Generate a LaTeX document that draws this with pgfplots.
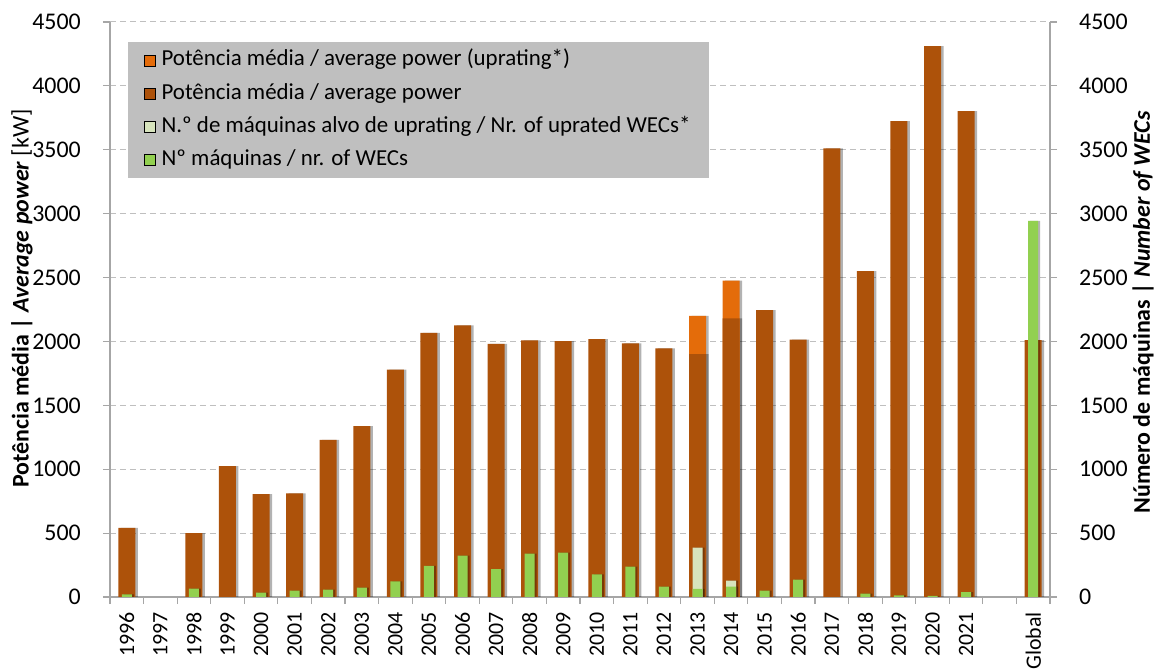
\documentclass[border=0pt]{standalone}
\usepackage{pgfplots}
\pgfplotsset{compat=1.18}
\usepackage{pgfplotstable}
\usepackage{fontspec}
\setmainfont{Carlito}
\definecolor{cOrange}{HTML}{E46C0A}
\definecolor{cBrown}{HTML}{AD520A}
\definecolor{cLight}{HTML}{D7E4BD}
\definecolor{cGreen}{HTML}{92D050}
\definecolor{cLeg}{HTML}{BFBFBF}
\definecolor{cAxis}{HTML}{A6A6A6}
\definecolor{cGrid}{HTML}{BFBFBF}
\newcommand\fs[1]{\fontsize{#1}{#1}\selectfont}

% x: 0 = 1996 ... 25 = 2021, 27 = Global
\pgfplotstableread{
x power wecs
0 540 20
1 0 0
2 500 65
3 1025 0
4 806 35
5 810 50
6 1230 57
7 1338 73
8 1780 123
9 2068 243
10 2125 324
11 1980 219
12 2008 339
13 2003 347
14 2018 177
15 1985 237
16 1945 81
17 1900 63
18 2180 81
19 2245 50
20 2015 136
21 3510 0
22 2550 26
23 3725 13
24 4312 8
25 3803 39
27 2010 2943
}\maindata
% totals including uprating
\pgfplotstableread{
x power wecs
17 2200 386
18 2476 128
}\upratedata

\pgfplotsset{
  legsq/.style={legend image code/.code={\fill[##1] (0bp,-5.5bp) rectangle (11bp,5.5bp);}},
  barbase/.style={ybar, bar shift=0pt, draw=none, forget plot},
}

\begin{document}
\begin{tikzpicture}
\begin{axis}[
  name=main,
  width=940bp, height=575bp, scale only axis,
  xmin=-0.5, xmax=27.5, ymin=0, ymax=4500,
  axis x line*=bottom, axis y line*=left,
  axis line style={draw=cAxis, line width=1.2bp},
  ytick={0,500,...,4500},
  ymajorgrids,
  grid style={draw=cGrid, line width=1bp, dash pattern=on 6bp off 4bp},
  tick align=outside,
  major tick length=7bp,
  tick style={draw=cAxis, line width=1.2bp},
  xtick={-0.5,0.5,...,27.5},
  xticklabels={},
  extra x ticks={0,1,...,25,27},
  extra x tick labels={1996,1997,1998,1999,2000,2001,2002,2003,2004,2005,2006,2007,2008,2009,2010,2011,2012,2013,2014,2015,2016,2017,2018,2019,2020,2021,Global},
  extra x tick style={major tick length=0pt, tick style={draw=none},
     xticklabel style={rotate=90, anchor=east, inner sep=0pt, font=\fs{22}}},
  xticklabel shift=15bp,
  yticklabel style={font=\fs{24}, inner sep=0pt},
  yticklabel shift=22bp,
  /pgf/number format/assume math mode=true,
  /pgf/number format/set thousands separator={},
  every axis y label/.style={at={(axis description cs:0,0.5)}, xshift=-88bp, yshift=11bp, rotate=90, anchor=center},
  ylabel={\fs{24}\textbf{Potência média | \textit{Average power}} [kW]},
  legend style={at={(axis description cs:0.0191,0.9652)}, anchor=north west,
     fill=cLeg, draw=none, font=\fs{23}, inner xsep=16bp, inner ysep=5.5bp,
     row sep=8.3bp, nodes={inner sep=2bp, text height=16bp, text depth=5bp},
     /tikz/every odd column/.append style={column sep=4bp}},
  legend cell align=left,
]
% shadows
\addplot[barbase, bar width=17bp, bar shift=2.5bp, fill=black, fill opacity=0.3] table[x=x,y=power] {\maindata};
\addplot[barbase, bar width=17bp, bar shift=2.5bp, fill=black, fill opacity=0.3] table[x=x,y=power] {\upratedata};
% average power (uprating total) and average power
\addplot[barbase, bar width=17bp, fill=cOrange] table[x=x,y=power] {\upratedata};
\addplot[barbase, bar width=17bp, fill=cBrown] table[x=x,y=power] {\maindata};
% number of WECs
\addplot[barbase, bar width=10bp, bar shift=2bp, fill=black, fill opacity=0.3] table[x=x,y=wecs] {\maindata};
\addplot[barbase, bar width=10bp, bar shift=2bp, fill=black, fill opacity=0.3] table[x=x,y=wecs] {\upratedata};
\addplot[barbase, bar width=10bp, fill=cLight] table[x=x,y=wecs] {\upratedata};
\addplot[barbase, bar width=10bp, fill=cGreen] table[x=x,y=wecs] {\maindata};
\addlegendimage{legsq, fill=cOrange}
\addlegendentry{Potência média / average power (uprating*)}
\addlegendimage{legsq, fill=cBrown}
\addlegendentry{Potência média / average power}
\addlegendimage{legsq, fill=cLight}
\addlegendentry{N.º de máquinas alvo de uprating / Nr. of uprated WECs*}
\addlegendimage{legsq, fill=cGreen}
\addlegendentry{Nº máquinas / nr. of WECs}
\end{axis}
\begin{axis}[
  at={(main.south west)}, anchor=south west,
  width=940bp, height=575bp, scale only axis,
  xmin=-0.5, xmax=27.5, ymin=0, ymax=4500,
  hide x axis,
  axis y line*=right,
  axis line style={draw=cAxis, line width=1.2bp},
  ytick={0,500,...,4500},
  tick align=outside,
  major tick length=7bp,
  tick style={draw=cAxis, line width=1.2bp},
  yticklabel style={font=\fs{24}, inner sep=0pt},
  yticklabel shift=22bp,
  /pgf/number format/assume math mode=true,
  /pgf/number format/set thousands separator={},
  every axis y label/.style={at={(axis description cs:1,0.5)}, xshift=93bp, yshift=-3bp, rotate=90, anchor=center},
  ylabel={\fs{24}\textbf{Número de máquinas | \textit{Number of WECs}}},
]
\addplot[draw=none, forget plot] coordinates {(0,0)};
\end{axis}
\pgfresetboundingbox
\path[use as bounding box] ([xshift=-110bp,yshift=-73bp]main.south west) rectangle ([xshift=105bp,yshift=22bp]main.north east);
\end{tikzpicture}
\end{document}
